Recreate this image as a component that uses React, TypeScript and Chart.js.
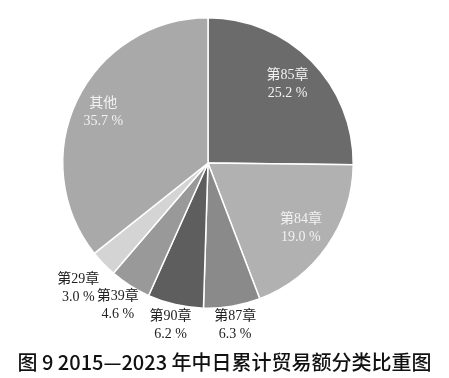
import React, { useEffect, useRef } from "react";
import { Chart, registerables } from "chart.js";

Chart.register(...registerables);

const categories = ["第85章", "第84章", "第87章", "第90章", "第39章", "第29章", "其他"];
const shares = [25.2, 19.0, 6.3, 6.2, 4.6, 3.0, 35.7];
const sliceColors = ["#6b6b6b", "#b1b1b1", "#8a8a8a", "#5e5e5e", "#999999", "#d4d4d4", "#a9a9a9"];
const titleText = "图 9 2015—2023 年中日累计贸易额分类比重图";

const labelRadius = [0.77, 0.78, 1.13, 1.15, 1.16, 1.24, 0.8];
const labelColors = ["#f2f2f2", "#f2f2f2", "#222", "#222", "#222", "#222", "#f2f2f2"];

const labelPlugin = {
  id: "sliceLabels",
  afterDraw(chart: any) {
    const ctx = chart.ctx;
    const meta = chart.getDatasetMeta(0);
    ctx.save();
    ctx.textAlign = "center";
    ctx.textBaseline = "middle";
    ctx.font = '14px "Liberation Serif", "Noto Sans CJK SC", serif';
    meta.data.forEach((arc: any, i: number) => {
      const p = arc.getProps(["x", "y", "startAngle", "endAngle", "outerRadius"], true);
      const mid = (p.startAngle + p.endAngle) / 2;
      const r = p.outerRadius * labelRadius[i];
      const cx = p.x + Math.cos(mid) * r;
      const cy = p.y + Math.sin(mid) * r;
      ctx.fillStyle = labelColors[i];
      ctx.fillText(categories[i], cx, cy - 9);
      ctx.fillText(shares[i].toFixed(1) + " %", cx, cy + 9);
    });
    ctx.fillStyle = "#111";
    ctx.font = '500 20px "Noto Sans CJK SC", "Noto Sans", sans-serif';
    ctx.fillText(titleText, chart.width / 2, 362);
    ctx.restore();
  },
};

export default function App() {
  const ref = useRef<HTMLCanvasElement>(null);
  useEffect(() => {
    document.body.style.margin = "0";
    const chart = new Chart(ref.current as HTMLCanvasElement, {
      type: "pie",
      data: {
        labels: categories,
        datasets: [
          {
            data: shares,
            backgroundColor: sliceColors,
            borderColor: "#ffffff",
            borderWidth: 1.5,
          },
        ],
      },
      options: {
        responsive: false,
        animation: false,
        layout: { padding: { top: 17, bottom: 69, left: 0, right: 33 } },
        plugins: {
          legend: { display: false },
          tooltip: { enabled: false },
          title: { display: false },
        },
      },
      plugins: [labelPlugin],
    });
    return () => chart.destroy();
  }, []);
  return (
    <div style={{ width: 449, height: 378, background: "#fff" }}>
      <canvas ref={ref} width={449} height={378} />
    </div>
  );
}
